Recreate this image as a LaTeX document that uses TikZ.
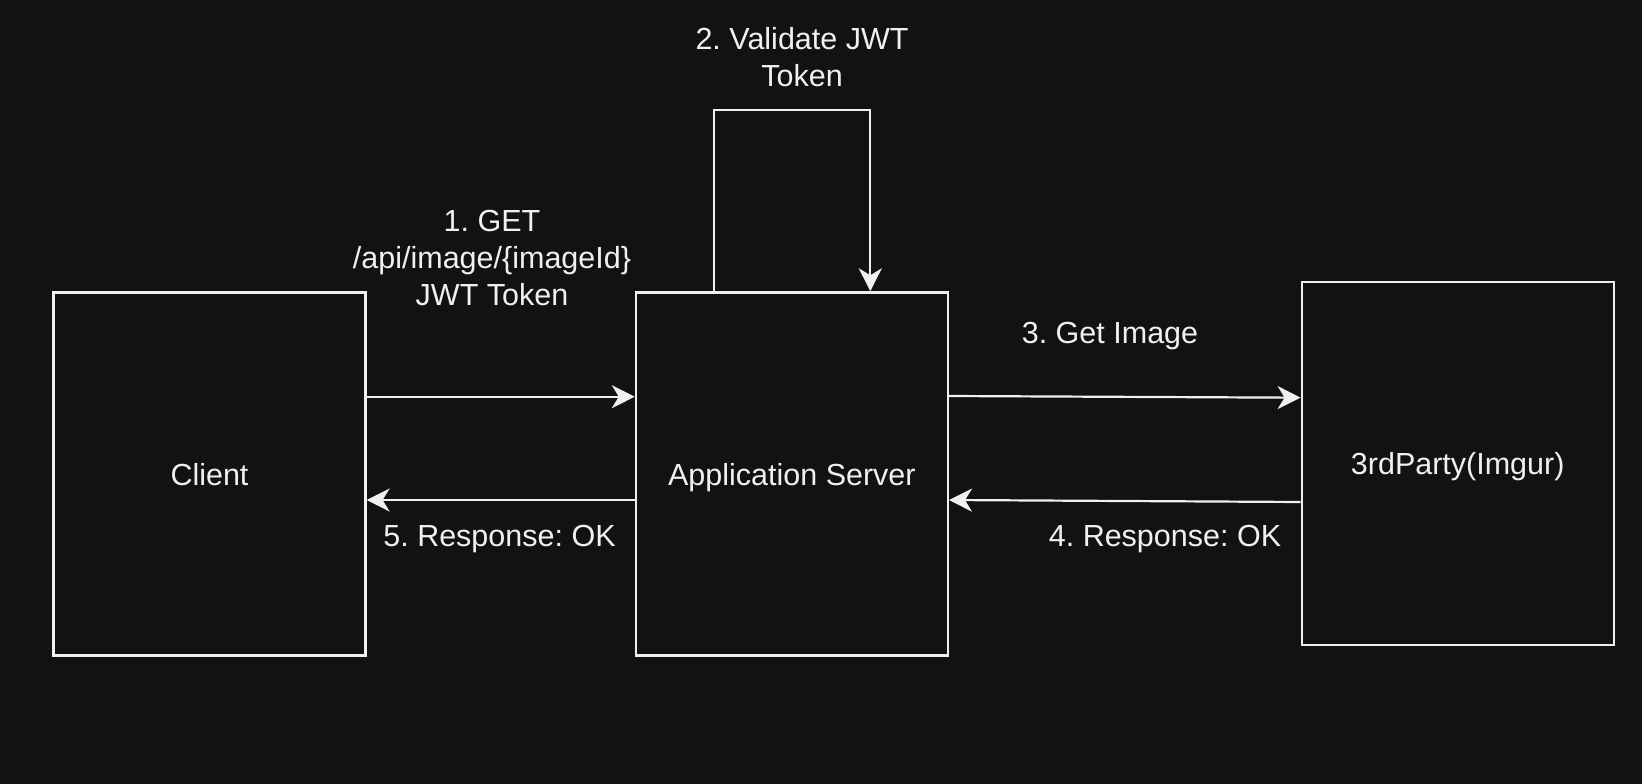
\documentclass[tikz,border=0pt]{standalone}
\usepackage{fontspec}
\setmainfont{Liberation Sans}
\usetikzlibrary{arrows.meta,calc}
\definecolor{bg}{HTML}{121212}
\definecolor{fg}{HTML}{F0F0F0}
\frenchspacing
\begin{document}
\begin{tikzpicture}[x=1pt,y=-1pt,
  box/.style={draw=fg,line width=2.2pt,minimum width=312pt,minimum height=363pt,inner sep=0pt,text=fg,font=\fontsize{30.5}{37}\selectfont},
  arr/.style={draw=fg,line width=2.2pt,-{Stealth[length=23pt,width=23pt,inset=7pt]}},
  lbl/.style={text=fg,inner sep=0pt,anchor=base,font=\fontsize{30.5}{37}\selectfont\frenchspacing}]
\fill[bg] (0,0) rectangle (1642,784);
\useasboundingbox (0,0) rectangle (1642,784);
\node[box] (client) at (209.5,473.9) {};
\node[box] (app) at (791.9,473.9) {};
\node[box] (third) at (1457.7,463.4) {};
\node[lbl] (tclient) at (209.5,485.5) {Client};
\node[lbl] (tapp) at (791.9,485.5) {Application Server};
\node[lbl] (tthird) at (1457.7,474) {3rdParty(Imgur)};
% arrows
\draw[arr] ($(client.east)+(0,-77.2)$) -- ($(app.west)+(0,-77.2)$);
\draw[arr] ($(app.west)+(0,26.1)$) -- ($(client.east)+(0,26.1)$);
\draw[arr] ($(app.east)+(0,-77.9)$) -- ($(third.west)+(0,-65.7)$);
\draw[arr] ($(third.west)+(0,38.6)$) -- ($(app.east)+(0,26.1)$);
\coordinate (la) at (714.3,110);
\coordinate (lb) at (870.3,110);
\draw[arr] (app.north -| la) -- (la) -- (lb) -- (app.north -| lb);
% labels
\node[lbl] (l1) at (492,231) {\setlength{\tabcolsep}{0pt}\begin{tabular}[t]{c}1. GET\\/api/image/\{imageId\}\\JWT Token\end{tabular}};
\node[lbl] (l2) at (802,49.5) {\setlength{\tabcolsep}{0pt}\begin{tabular}[t]{c}2. Validate JWT\\Token\end{tabular}};
\node[lbl] (l3) at (1110,343) {3. Get Image};
\node[lbl] (l4) at (1165,546.5) {4. Response: OK};
\node[lbl] (l5) at (499.5,546.5) {5. Response: OK};
\end{tikzpicture}
\end{document}
